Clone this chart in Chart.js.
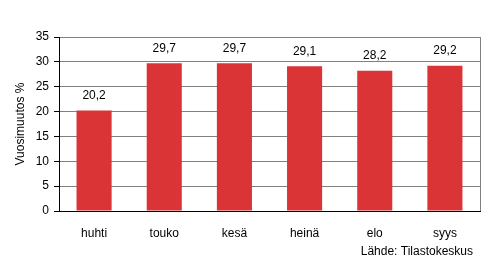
<!DOCTYPE html>
<html>
<head>
<meta charset="utf-8">
<script src="https://cdn.jsdelivr.net/npm/chart.js@4"></script>
<style>
  body { margin: 0; background: #fff; }
  #wrap { width: 495px; height: 268px; }
</style>
</head>
<body>
<div id="wrap"><canvas id="myChart"></canvas></div>
<script>
var months = ["huhti", "touko", "kesä", "heinä", "elo", "syys"];
var changes = [20.2, 29.7, 29.7, 29.1, 28.2, 29.2];
var yTicks = [0, 5, 10, 15, 20, 25, 30, 35];

Chart.defaults.font.family = "'Liberation Sans', Arial, sans-serif";
Chart.defaults.font.size = 12;
Chart.defaults.color = "#000";

var extras = {
  id: "extras",
  afterDatasetsDraw: function(chart) {
    var ctx = chart.ctx;
    var meta = chart.getDatasetMeta(0);
    ctx.save();
    ctx.font = "12px 'Liberation Sans', Arial, sans-serif";
    ctx.fillStyle = "#000";
    ctx.textAlign = "center";
    ctx.textBaseline = "bottom";
    meta.data.forEach(function(bar, i) {
      ctx.fillText(changes[i].toFixed(1).replace(".", ","), bar.x, bar.y - 9);
    });
    ctx.textAlign = "right";
    ctx.textBaseline = "middle";
    ctx.fillText("Lähde: Tilastokeskus", 473, 252);
    // right border of plot area
    var a = chart.chartArea;
    ctx.strokeStyle = "#808080";
    ctx.lineWidth = 1;
    ctx.beginPath();
    ctx.moveTo(a.right + 0.5, a.top);
    ctx.lineTo(a.right + 0.5, a.bottom);
    ctx.stroke();
    ctx.restore();
  }
};

new Chart("myChart", {
  type: "bar",
  data: {
    labels: months,
    datasets: [{
      data: changes,
      backgroundColor: "#db3436",
      barPercentage: 0.5,
      categoryPercentage: 1
    }]
  },
  options: {
    responsive: true,
    maintainAspectRatio: false,
    animation: false,
    layout: { padding: { top: 37, right: 15, bottom: 0, left: 0 } },
    plugins: { legend: { display: false }, tooltip: { enabled: false } },
    scales: {
      x: {
        grid: { display: false },
        border: { display: true, color: "#000", width: 1 },
        ticks: { padding: 7, font: { size: 12 } },
        afterFit: function(s) { s.height = 57; }
      },
      y: {
        min: 0,
        max: 35,
        afterBuildTicks: function(s) { s.ticks = yTicks.map(function(v) { return { value: v }; }); },
        grid: { color: "#808080", tickLength: 5, tickColor: "#000" },
        border: { display: true, color: "#000", width: 1 },
        ticks: { padding: 5, font: { size: 12 } },
        title: { display: true, text: "Vuosimuutos %", font: { size: 12 }, padding: { top: 13, bottom: 0 } },
        afterFit: function(s) { s.width = 59; }
      }
    }
  },
  plugins: [extras]
});
</script>
</body>
</html>
